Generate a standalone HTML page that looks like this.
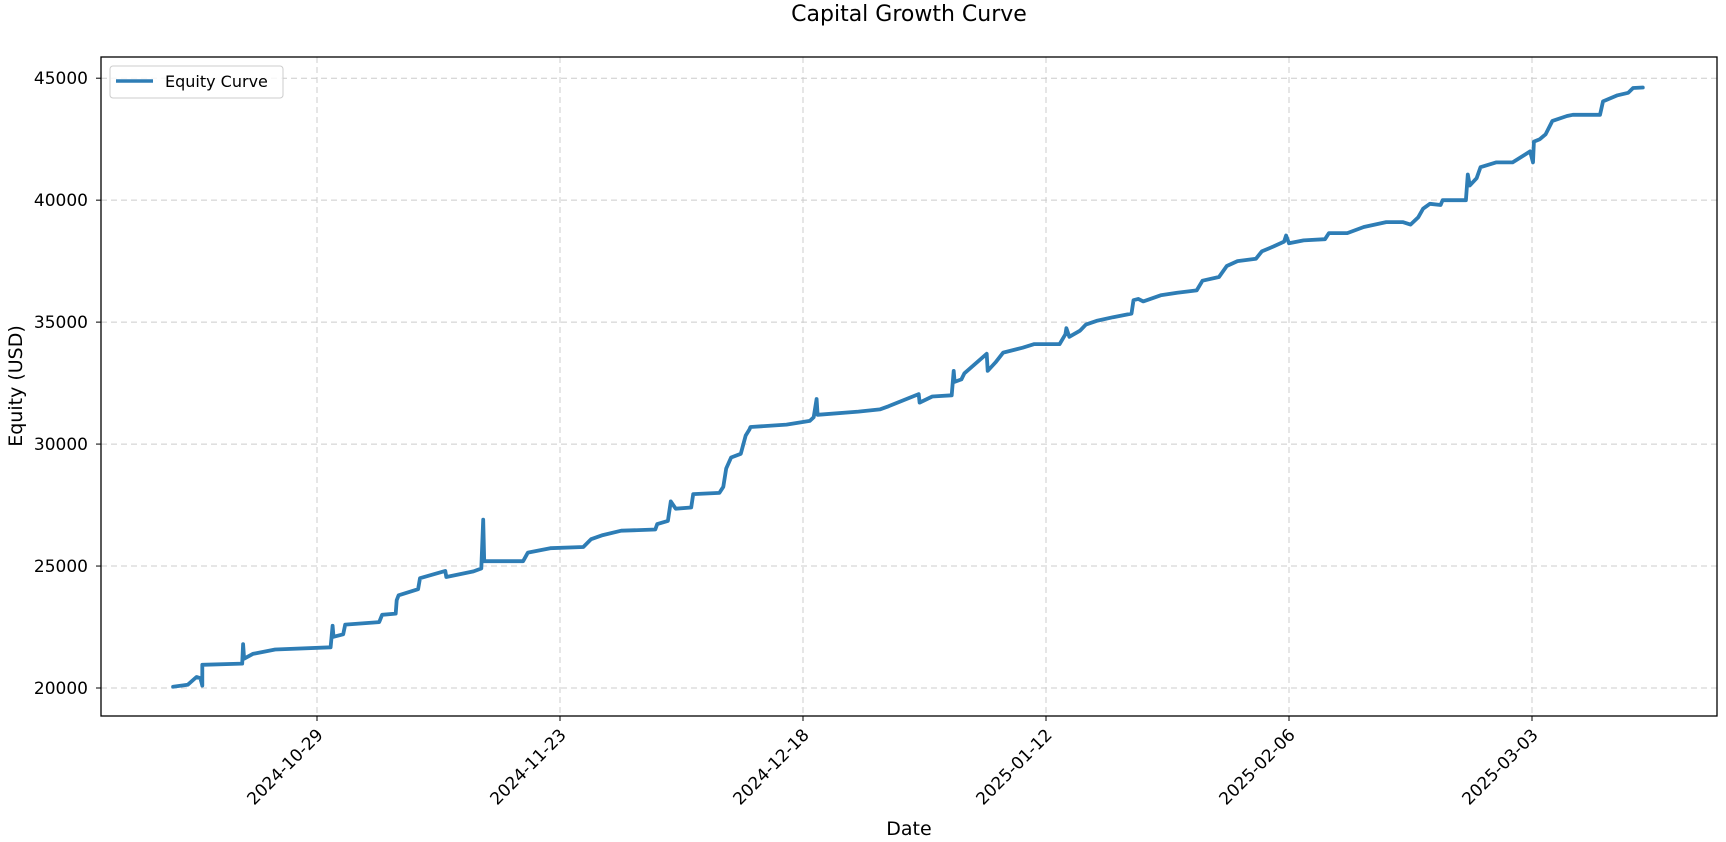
<!DOCTYPE html>
<html><head><meta charset="utf-8"><style>
html,body{margin:0;padding:0;background:#fff;}
svg{display:block;font-family:"DejaVu Sans","Liberation Sans",sans-serif;}
</style></head><body>
<svg id="chart" width="1726" height="842" viewBox="0 0 1726 842">
<text x="909" y="15" text-anchor="middle" font-size="22" fill="#000" dominant-baseline="middle">Capital Growth Curve</text>
<g id="grid"></g>
<g id="axes"></g>
<g id="plot"></g>
<rect x="101" y="57" width="1616" height="659" fill="none" stroke="#000" stroke-width="1.3"/>
<text x="909" y="835" text-anchor="middle" font-size="19">Date</text>
<text transform="translate(22,386) rotate(-90)" text-anchor="middle" font-size="19">Equity (USD)</text>
<g>
<rect x="110" y="66" width="173" height="32" rx="3" fill="#fff" fill-opacity="0.8" stroke="#ccc"/>
<line x1="116" y1="81" x2="153" y2="81" stroke="#2e7db5" stroke-width="3.5"/>
<text x="165" y="87" font-size="16">Equity Curve</text>
</g>
</svg>
<script>
const yTicks=[20000,25000,30000,35000,40000,45000];
const xTickLabels=["2024-10-29","2024-11-23","2024-12-18","2025-01-12","2025-02-06","2025-03-03"];
const xTickDays=[0,25,50,75,100,125];
const days=[-14.8,-13.3,-12.4,-12.0,-11.8,-11.8,-7.7,-7.6,-7.5,-6.6,-4.3,1.4,1.6,1.7,2.7,2.9,6.4,6.7,8.1,8.2,8.4,10.4,10.6,13.2,13.3,16.1,16.9,17.1,17.2,21.2,21.7,24.0,27.4,28.2,29.4,31.3,34.8,35.0,36.1,36.4,36.9,38.5,38.7,41.4,41.8,42.1,42.6,43.6,44.1,44.5,44.6,48.3,50.7,51.1,51.4,51.5,55.7,57.9,58.8,61.9,62.0,63.3,65.3,65.5,65.6,66.3,66.6,68.9,69.0,69.8,70.6,72.6,73.8,76.4,77.0,77.1,77.4,78.5,79.1,80.2,81.9,83.8,84.0,84.5,85.0,86.8,88.5,90.5,91.1,92.8,93.6,94.7,96.6,97.2,98.4,99.5,99.7,100.0,101.5,103.7,104.1,106.0,107.7,110.0,111.7,112.5,113.3,113.8,114.5,115.6,115.8,118.2,118.4,118.6,119.3,119.7,121.3,123.0,124.8,125.1,125.2,125.8,126.4,127.1,128.6,129.2,132.0,132.3,133.8,134.9,135.4,136.4];
const values=[20050,20130,20450,20400,20100,20950,21000,21800,21200,21400,21580,21670,22550,22100,22200,22600,22700,23000,23050,23600,23800,24050,24500,24800,24550,24780,24900,26900,25200,25200,25550,25730,25780,26100,26270,26450,26500,26720,26850,27650,27350,27400,27950,28000,28250,29000,29450,29600,30350,30600,30700,30800,30950,31100,31850,31200,31330,31420,31550,32050,31700,31950,32000,33000,32550,32650,32900,33700,33000,33350,33750,33950,34100,34100,34500,34750,34400,34650,34900,35050,35200,35350,35900,35950,35850,36100,36200,36300,36700,36850,37300,37500,37600,37900,38100,38300,38550,38230,38350,38400,38650,38650,38900,39100,39100,39000,39300,39650,39850,39800,40000,40000,41050,40600,40900,41350,41550,41550,42000,41550,42400,42500,42700,43250,43450,43500,43500,44050,44300,44400,44600,44620];
const NS="http://www.w3.org/2000/svg";
const X0=101,X1=1717,Y0=57,Y1=716;
function xScale(d){return 317+d*(1532-317)/125;}
function yScale(v){return 688-(v-20000)*(688-78.2)/25000;}
const grid=document.getElementById('grid'),axes=document.getElementById('axes'),plot=document.getElementById('plot');
function mk(tag,attrs,parent){const e=document.createElementNS(NS,tag);for(const k in attrs)e.setAttribute(k,attrs[k]);parent.appendChild(e);return e;}
yTicks.forEach(v=>{
 const y=yScale(v);
 const g=mk('line',{x1:X0,x2:X1,y1:y,y2:y,stroke:'#ccc','stroke-dasharray':'6,4','stroke-width':1},grid);
 
 
 const t=mk('line',{x1:X0-5,x2:X0,y1:y,y2:y,stroke:'#000'},axes);
 
 
 const l=mk('text',{x:X0-13,y:y+6,'text-anchor':'end','font-size':17},axes);
 l.textContent=String(v);
 
 
});
xTickDays.forEach((d,i)=>{
 const x=xScale(d);
 const g=mk('line',{x1:x,x2:x,y1:Y0,y2:Y1,stroke:'#ccc','stroke-dasharray':'6,4','stroke-width':1},grid);
 
 
 const t=mk('line',{x1:x,x2:x,y1:Y1,y2:Y1+5,stroke:'#000'},axes);
 
 
 const l=mk('text',{transform:`translate(${x+7},${Y1+20}) rotate(-45)`,'text-anchor':'end','font-size':17},axes);
 l.textContent=xTickLabels[i];
 
 
});
const pts=days.map((d,i)=>xScale(d).toFixed(1)+','+yScale(values[i]).toFixed(1)).join(' ');
const pl=mk('polyline',{points:pts,fill:'none',stroke:'#2e7db5','stroke-width':3.8,'stroke-linejoin':'round','stroke-linecap':'round'},plot);


</script>
</body></html>
